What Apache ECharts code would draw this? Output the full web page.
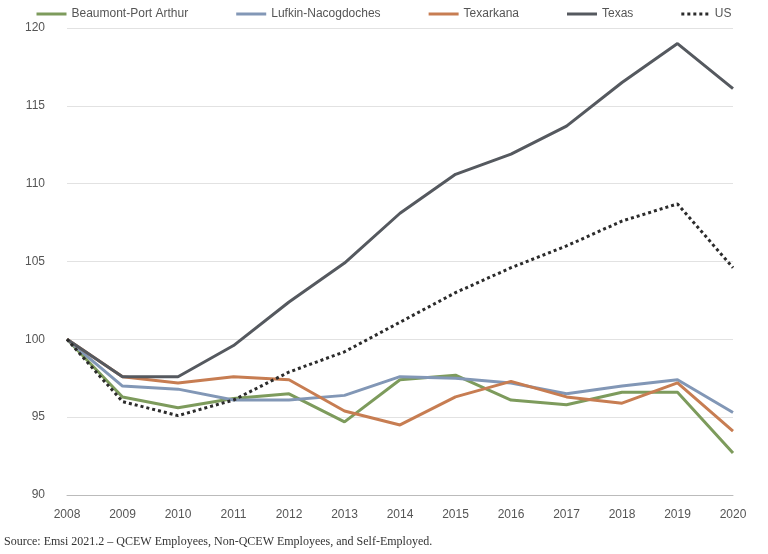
<!DOCTYPE html>
<html><head><meta charset="utf-8">
<script src="https://cdn.jsdelivr.net/npm/echarts@6/dist/echarts.min.js"></script>
<style>html,body{margin:0;background:#fff}#c{width:768px;height:554px}</style>
</head><body><div id="c"></div>
<script>
const years = ['2008','2009','2010','2011','2012','2013','2014','2015','2016','2017','2018','2019','2020'];
const beaumont = [100, 96.3, 95.6, 96.2, 96.5, 94.7, 97.4, 97.7, 96.1, 95.8, 96.6, 96.6, 92.7];
const lufkin = [100, 97.0, 96.8, 96.1, 96.1, 96.4, 97.6, 97.5, 97.2, 96.5, 97.0, 97.4, 95.3];
const texarkana = [100, 97.6, 97.2, 97.6, 97.4, 95.4, 94.5, 96.3, 97.3, 96.3, 95.9, 97.2, 94.1];
const texas = [100, 97.6, 97.6, 99.6, 102.4, 104.9, 108.1, 110.6, 111.9, 113.7, 116.5, 119.0, 116.1];
const us = [100, 96.0, 95.1, 96.1, 97.9, 99.2, 101.1, 103.0, 104.6, 106.0, 107.6, 108.7, 104.6];

const line = (name, data, color, type) => ({
    name, type: 'line', data, symbol: 'none',
    lineStyle: {color, width: 3, type: type || 'solid'}, itemStyle: {color}
});

const solidIcon = 'path://M0,0H30V3H0Z';
const dotIcon = 'path://M0,0H3V3H0ZM6,0H9V3H6ZM12,0H15V3H12ZM18,0H21V3H18ZM24,0H27V3H24Z';

const chart = echarts.init(document.getElementById('c'));
chart.setOption({
    animation: false,
    textStyle: {fontFamily: 'Liberation Sans Narrow, Liberation Sans, sans-serif'},
    legend: {
        top: 3, left: 'center', itemWidth: 30, itemHeight: 3, itemGap: 48,
        data: [
            {name: 'Beaumont-Port Arthur', icon: solidIcon},
            {name: 'Lufkin-Nacogdoches', icon: solidIcon},
            {name: 'Texarkana', icon: solidIcon},
            {name: 'Texas', icon: solidIcon},
            {name: 'US', icon: dotIcon}
        ],
        textStyle: {color: '#555', fontSize: 12}
    },
    grid: {left: 67, right: 35, top: 28, bottom: 59},
    xAxis: {
        type: 'category', data: years, boundaryGap: false,
        axisLine: {lineStyle: {color: '#bbb'}}, axisTick: {show: false},
        axisLabel: {color: '#555', fontSize: 12, margin: 14}
    },
    yAxis: {
        type: 'value', min: 90, max: 120, interval: 5,
        axisLine: {show: false}, axisTick: {show: false},
        axisLabel: {color: '#555', fontSize: 12, margin: 22},
        splitLine: {lineStyle: {color: '#e2e2e2'}}
    },
    series: [
        line('Beaumont-Port Arthur', beaumont, '#7d9b5c'),
        line('Lufkin-Nacogdoches', lufkin, '#8297b6'),
        line('Texarkana', texarkana, '#c77d52'),
        line('Texas', texas, '#55595f'),
        line('US', us, '#2b2b2b', 'dotted')
    ],
    graphic: [{
        type: 'text', left: 4, top: 536,
        style: {text: 'Source: Emsi 2021.2 – QCEW Employees, Non-QCEW Employees, and Self-Employed.',
            fill: '#333', font: '12px "Liberation Serif", serif'}
    }]
});
</script></body></html>
